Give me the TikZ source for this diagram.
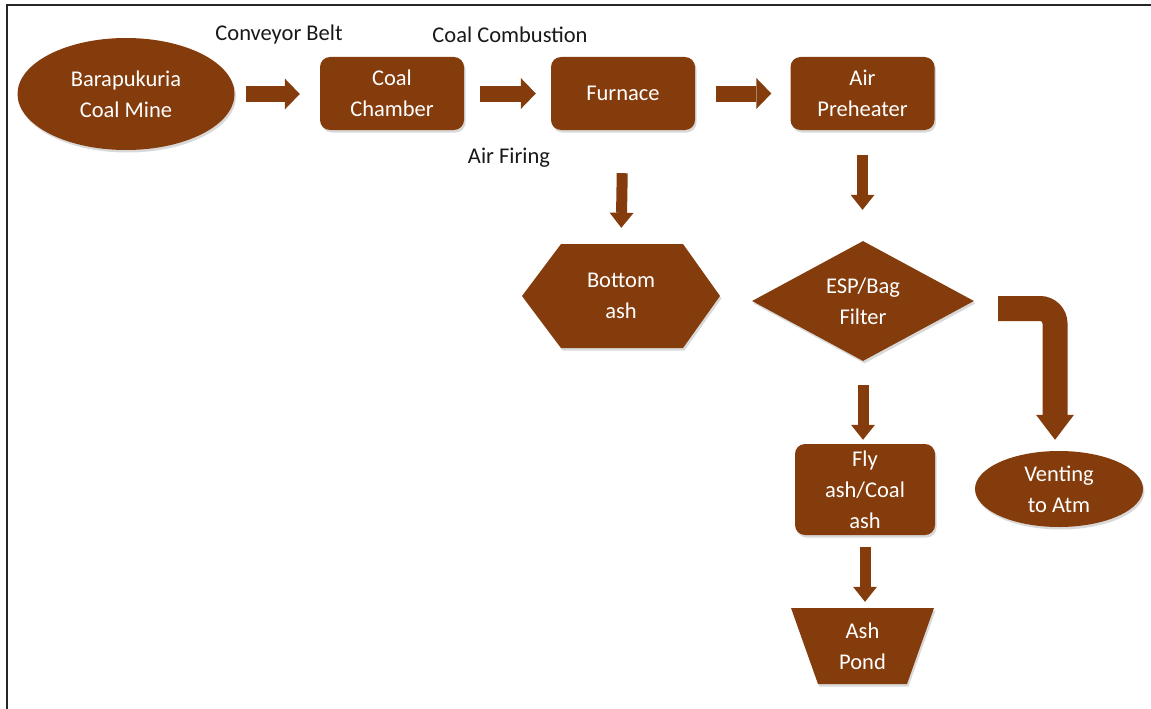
\documentclass[tikz,border=0pt]{standalone}
\usepackage{fontspec}
\setmainfont{Carlito}
\usetikzlibrary{shapes.geometric,arrows.meta,shadows}
\definecolor{brn}{RGB}{132,60,12}
\definecolor{lblc}{RGB}{25,25,25}
\begin{document}
\begin{tikzpicture}[x=1pt,y=-1pt,
  every node/.style={font=\fontsize{22.5}{31}\selectfont, align=center, inner sep=0pt},
  sh/.style={drop shadow={shadow xshift=1.5pt, shadow yshift=-2.5pt, opacity=0.3}},
  shp/.style={fill=brn, text=white, sh},
  box/.style={shp, rounded corners=10pt, minimum width=144pt, minimum height=73pt},
  oval/.style={shp, ellipse},
  lbl/.style={text=lblc},
  harrow/.style={draw=brn, line width=16pt, -{Triangle[line width=0pt, length=15pt, width=31pt]}},
  varrow/.style={draw=brn, line width=11pt, -{Triangle[line width=0pt, length=15pt, width=24pt]}},
  barrow/.style={draw=brn, line width=25pt, rounded corners=15pt, -{Triangle[line width=0pt, length=25pt, width=38pt]}},
]
\useasboundingbox (0,0) rectangle (1151,709);
\draw[line width=2pt, black!85] (7,709) -- (7,5) -- (1151,5);

% nodes
\node[oval, minimum width=217pt, minimum height=112pt] (mine) at (126,94) {Barapukuria\\Coal Mine};
\node[box] (chamber) at (392,93.5) {Coal\\Chamber};
\node[box] (furnace) at (623,93.5) {Furnace};
\node[box] (aph) at (862.5,93.5) {Air\\Preheater};

\fill[brn, sh] (522,296) -- (561,244) -- (683,244) -- (720,296) -- (683,348) -- (561,348) -- cycle;
\node[text=white, minimum width=198pt, minimum height=104pt] (bash) at (621,296) {Bottom\\ash};

\node[shp, diamond, aspect=1.85, minimum width=222pt, minimum height=120pt] (esp) at (863,301) {ESP/Bag\\Filter};

\node[box, minimum width=140pt, minimum height=91pt] (fly) at (865,489.5) {Fly\\ash/Coal\\ash};
\node[oval, minimum width=168pt, minimum height=76pt] (vent) at (1059,489) {Venting\\to Atm};

\fill[brn, sh] (791,608) -- (934,608) -- (907,684) -- (818,684) -- cycle;
\node[text=white, minimum width=143pt, minimum height=76pt] (pond) at (862.5,646) {Ash\\Pond};

% labels
\node[lbl] (conv) at (279,35) {Conveyor Belt};
\node[lbl] (comb) at (510,35) {Coal Combustion};
\node[lbl] (firing) at (509,158) {Air Firing};

% connectors
\draw[harrow, shorten <=11.5pt, shorten >=20pt] (mine.east) -- (mine.east -| chamber.west);
\draw[harrow, shorten <=16pt, shorten >=15pt] (chamber.east) -- (furnace.west);
\draw[harrow, shorten <=21pt, shorten >=19pt] (furnace.east) -- (aph.west);
\draw[varrow, shorten <=43pt, shorten >=16pt] (furnace.south) -- (bash.north);
\draw[varrow, shorten <=25pt, shorten >=31pt] (aph.south) -- (aph.south |- esp.north);
\draw[varrow, shorten <=24pt, shorten >=4pt] (esp.south) -- (esp.south |- fly.north);
\draw[varrow, shorten <=12pt, shorten >=6pt] (fly.south) -- (fly.south |- pond.north);
\draw[barrow, shorten >=11pt] ([shift={(24,7.5)}]esp.east) -| ([shift={(-4,0)}]vent.north);
\end{tikzpicture}
\end{document}
